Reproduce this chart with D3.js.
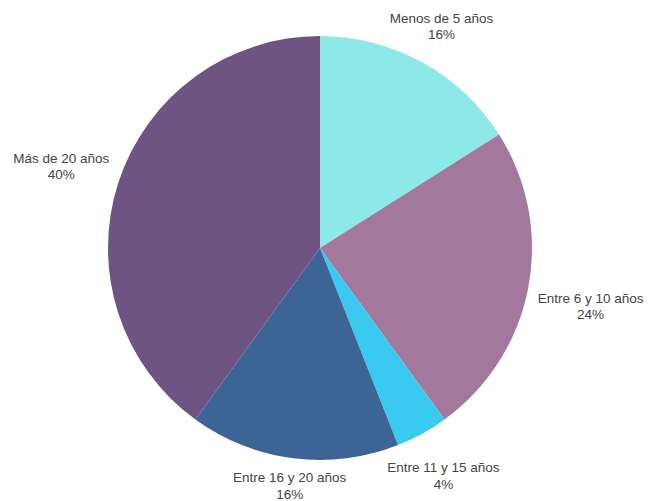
<!DOCTYPE html>
<html><head><meta charset="utf-8">
<script src="https://cdn.jsdelivr.net/npm/d3@7/dist/d3.min.js"></script>
<style>body{margin:0;background:#fff}svg{display:block}</style>
</head><body>
<script>
const categories = ["Menos de 5 años","Entre 6 y 10 años","Entre 11 y 15 años","Entre 16 y 20 años","Más de 20 años"];
const values = [16,24,4,16,40];
const colors = ["#8ce9e8","#a3789d","#3ac9ef","#3c6595","#6d5482"];

const W=648,H=501,cx=320,cy=248,r=212;
const labelOffsets=[[1,-6],[25,8],[3,5],[1,-14],[-21,-8]];

const svg=d3.select("body").append("svg").attr("width",W).attr("height",H);
const g=svg.append("g").attr("transform",`translate(${cx},${cy})`);
const pie=d3.pie().sort(null).value(d=>d)(values);
const arc=d3.arc().innerRadius(0).outerRadius(r);
const labelArc=d3.arc().innerRadius(250).outerRadius(250);
const color=d3.scaleOrdinal().domain(categories).range(colors);

g.selectAll("path").data(pie).join("path")
  .attr("d",arc).attr("fill",(d,i)=>color(categories[i]));

const totals=d3.sum(values);
const lab=g.selectAll("text.lab").data(pie).join("text").attr("class","lab")
  .attr("text-anchor","middle")
  .style("font-family","'Liberation Sans',Arial,sans-serif")
  .style("font-size","13.5px").attr("fill","#444")
  .attr("transform",(d,i)=>{const c=labelArc.centroid(d);return `translate(${c[0]+labelOffsets[i][0]},${c[1]+labelOffsets[i][1]})`;});
lab.append("tspan").attr("x",0).attr("y",0).text((d,i)=>categories[i]);
lab.append("tspan").attr("x",0).attr("y",16.5).text(d=>Math.round(d.value/totals*100)+"%");
</script>
</body></html>
